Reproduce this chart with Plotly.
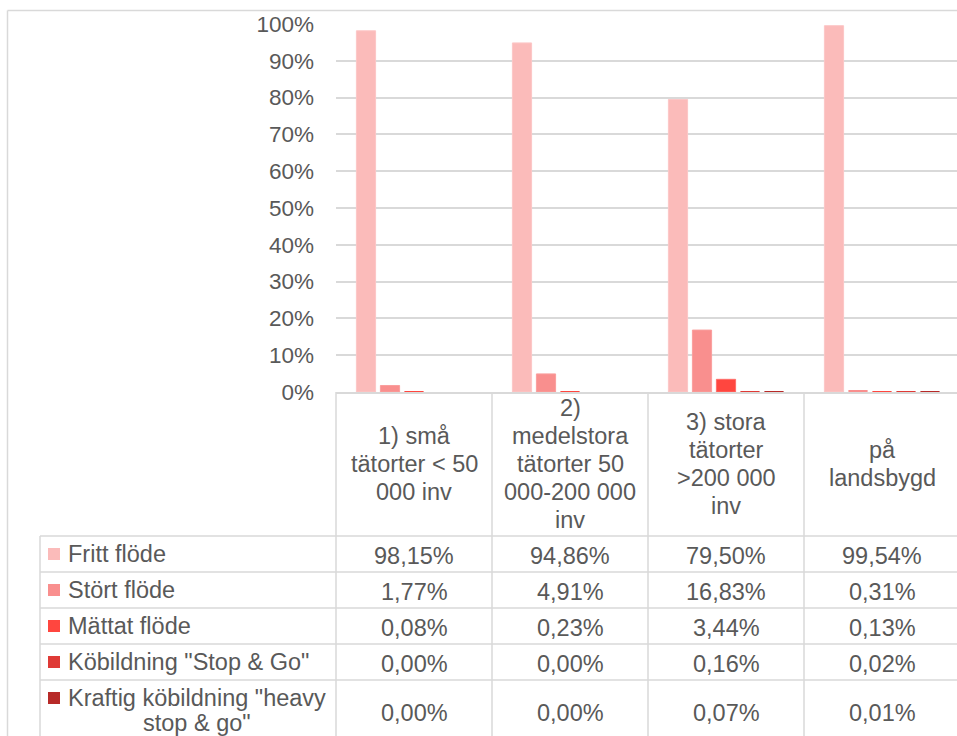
import plotly.graph_objects as go

# --- data -------------------------------------------------------------
category_lines = [
    ["1) små", "tätorter < 50", "000 inv"],
    ["2)", "medelstora", "tätorter 50", "000-200 000", "inv"],
    ["3) stora", "tätorter", ">200 000", "inv"],
    ["på", "landsbygd"],
]
series_names = [
    "Fritt flöde",
    "Stört flöde",
    "Mättat flöde",
    'Köbildning "Stop & Go"',
    'Kraftig köbildning "heavy stop & go"',
]
fritt_flode = [98.15, 94.86, 79.50, 99.54]
stort_flode = [1.77, 4.91, 16.83, 0.31]
mattat_flode = [0.08, 0.23, 3.44, 0.13]
kobildning = [0.00, 0.00, 0.16, 0.02]
kraftig_kobildning = [0.00, 0.00, 0.07, 0.01]
y_ticks = [0, 10, 20, 30, 40, 50, 60, 70, 80, 90, 100]
y_tick_labels = [f"{t}%" for t in y_ticks]

series_values = [fritt_flode, stort_flode, mattat_flode, kobildning, kraftig_kobildning]
colors = ["#FBBBBA", "#F98F8E", "#FF463F", "#DF3A36", "#B72A28"]
edge_colors = ["#FCC6C6", "#FA9E9D", "#FF6D68", "#E5605D", "#C65553"]

# --- geometry (pixels of a 957 x 736 canvas) ----------------------------
W, H = 957, 736
PLOT_L, PLOT_T, PLOT_B = 336, 24, 392
CAT_W = 156
GRID = "#D9D9D9"
TXT = "#595959"
FONT = "Liberation Sans, Arial, sans-serif"


def px(x):
    return x / W


def py(y):
    return 1 - y / H


n_cat = len(category_lines)
x_max = (W - PLOT_L) / CAT_W - 0.5

fig = go.Figure()
for name, vals, col, edge in zip(series_names, series_values, colors, edge_colors):
    fig.add_trace(go.Bar(
        x=list(range(n_cat)), y=vals, name=name,
        marker=dict(color=col,
                    line=dict(color=edge, width=[1 if v >= 1 else 0 for v in vals])),
        showlegend=False, hoverinfo="name+y",
    ))

shapes = []
annotations = []

# outer chart frame (top and left edges)
shapes.append(dict(type="line", xref="paper", yref="paper",
                   x0=px(7.5), x1=1, y0=py(10.5), y1=py(10.5),
                   line=dict(color=GRID, width=1.5)))
shapes.append(dict(type="line", xref="paper", yref="paper",
                   x0=px(7.5), x1=px(7.5), y0=py(10.5), y1=0,
                   line=dict(color=GRID, width=1.5)))

# data table grid
row_edges = [536, 572, 608, 644, 680]
for y in row_edges:
    shapes.append(dict(type="line", xref="paper", yref="paper",
                       x0=px(40), x1=1, y0=py(y), y1=py(y),
                       line=dict(color=GRID, width=1.5)))
shapes.append(dict(type="line", xref="paper", yref="paper",
                   x0=px(40), x1=px(40), y0=py(536), y1=0,
                   line=dict(color=GRID, width=1.5)))
for i in range(n_cat):
    xb = PLOT_L + i * CAT_W
    shapes.append(dict(type="line", xref="paper", yref="paper",
                       x0=px(xb), x1=px(xb), y0=py(PLOT_B), y1=0,
                       line=dict(color=GRID, width=1.5)))

# category header text, one annotation per line
LINE_H = 28
head_mid = (PLOT_B + 536) / 2
for i, lines in enumerate(category_lines):
    xc = PLOT_L + (i + 0.5) * CAT_W
    n = len(lines)
    for k, line in enumerate(lines):
        yc = head_mid + (k - (n - 1) / 2) * LINE_H
        annotations.append(dict(xref="paper", yref="paper", x=px(xc), y=py(yc),
                                text=line, showarrow=False, xanchor="center",
                                yanchor="middle",
                                font=dict(family=FONT, size=23.5, color=TXT)))

# table rows: legend key, series name, values
row_centers = [554, 590, 626, 662, 711]
for r, (name, vals, col) in enumerate(zip(series_names, series_values, colors)):
    yc = row_centers[r]
    if r < 4:
        key_y = yc
        annotations.append(dict(xref="paper", yref="paper", x=px(66), y=py(yc),
                                text=name, showarrow=False, xanchor="left",
                                yanchor="middle",
                                font=dict(family=FONT, size=23.5, color=TXT)))
    else:
        key_y = yc - 13
        words = name.split(" ")
        first, second = " ".join(words[:3]), " ".join(words[3:])
        annotations.append(dict(xref="paper", yref="paper", x=px(66), y=py(yc - 13),
                                text=first, showarrow=False, xanchor="left",
                                yanchor="middle",
                                font=dict(family=FONT, size=23.5, color=TXT)))
        annotations.append(dict(xref="paper", yref="paper", x=px(197), y=0,
                                text=second, showarrow=False, xanchor="center",
                                yanchor="bottom", yshift=-2,
                                font=dict(family=FONT, size=23.5, color=TXT)))
    shapes.append(dict(type="rect", xref="paper", yref="paper",
                       x0=px(48), x1=px(60), y0=py(key_y - 6), y1=py(key_y + 6),
                       fillcolor=col, line=dict(width=0)))
    for i, v in enumerate(vals):
        xc = PLOT_L + (i + 0.5) * CAT_W
        label = f"{v:.2f}".replace(".", ",") + "%"
        annotations.append(dict(xref="paper", yref="paper", x=px(xc), y=py(yc + 2),
                                text=label, showarrow=False, xanchor="center",
                                yanchor="middle",
                                font=dict(family=FONT, size=23.5, color=TXT)))

fig.update_layout(
    width=W, height=H,
    margin=dict(l=0, r=0, t=0, b=0, pad=0, autoexpand=False),
    paper_bgcolor="white", plot_bgcolor="white",
    barmode="group", bargap=36 / 156, bargroupgap=0.2,
    font=dict(family=FONT, color=TXT),
    xaxis=dict(domain=[px(PLOT_L), 1], range=[-0.5, x_max], automargin=False,
               showticklabels=False, showgrid=False, zeroline=False,
               showline=True, linecolor=GRID, linewidth=1.5, fixedrange=True),
    yaxis=dict(domain=[py(PLOT_B), py(PLOT_T)], range=[0, 100], automargin=False,
               tickmode="array", tickvals=y_ticks, ticktext=y_tick_labels,
               showgrid=True, gridcolor=GRID, gridwidth=1.5,
               zeroline=False, showline=False,
               ticks="", ticklabelstandoff=21,
               tickfont=dict(family=FONT, size=22.5, color=TXT)),
    shapes=shapes,
    annotations=annotations,
)

fig.write_html("out.html")
